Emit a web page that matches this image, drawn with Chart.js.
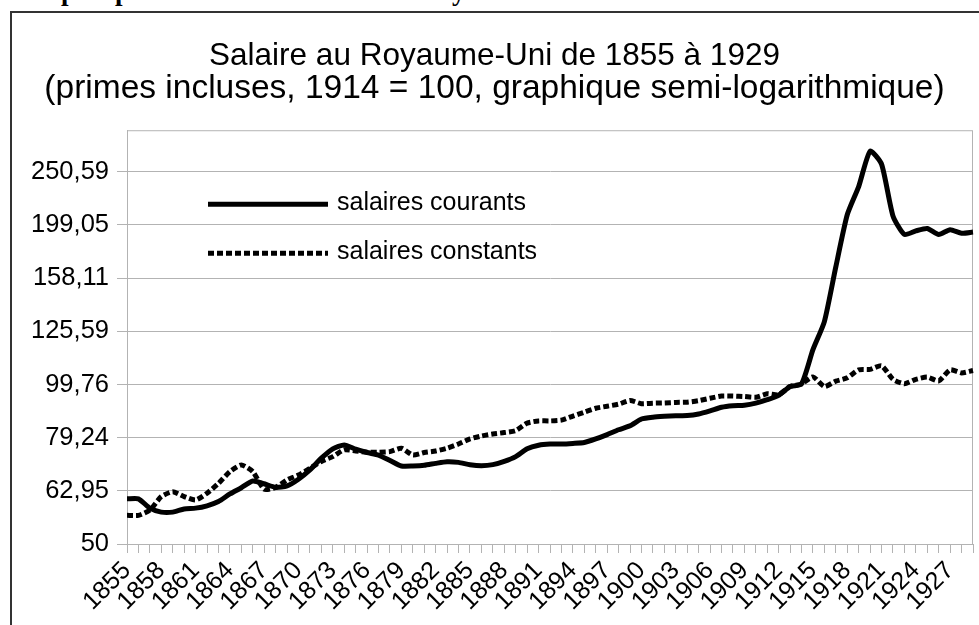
<!DOCTYPE html>
<html lang="fr">
<head>
<meta charset="utf-8">
<title>Salaire au Royaume-Uni de 1855 à 1929</title>
<script src="https://cdn.jsdelivr.net/npm/chart.js@4.4.1/dist/chart.umd.min.js"></script>
<style>
  html, body { margin: 0; padding: 0; background: #fff; overflow: hidden; }
  body { width: 979px; height: 625px; position: relative; }
  #cadre { position: absolute; left: 10px; top: 11px; width: 1000px; height: 700px; border: 2px solid #333; box-sizing: border-box; }
  canvas { position: absolute; left: 0; top: 0; }
  .bout { position: absolute; top: -22px; font: bold 27px "Liberation Serif"; line-height: 27px; color: #000; }
</style>
</head>
<body>
<!-- restes de la ligne de texte coupée au-dessus du graphique -->
<span class="bout" style="left:61px">p</span>
<span class="bout" style="left:115px">p</span>
<span class="bout" style="left:452px">y</span>
<div id="cadre"></div>
<canvas id="graphique" width="979" height="625"></canvas>
<script>
// Données (indice 1914 = 100, primes incluses)
const annees = [
  '1855','1856','1857','1858','1859','1860','1861','1862','1863','1864',
  '1865','1866','1867','1868','1869','1870','1871','1872','1873','1874',
  '1875','1876','1877','1878','1879','1880','1881','1882','1883','1884',
  '1885','1886','1887','1888','1889','1890','1891','1892','1893','1894',
  '1895','1896','1897','1898','1899','1900','1901','1902','1903','1904',
  '1905','1906','1907','1908','1909','1910','1911','1912','1913','1914',
  '1915','1916','1917','1918','1919','1920','1921','1922','1923','1924',
  '1925','1926','1927','1928','1929'
];

const salairesCourants = [
  60.8, 60.8, 58.4, 57.4, 57.4, 58.2, 58.4, 59.0, 60.1, 62.1,
  63.8, 65.7, 64.9, 63.9, 64.3, 66.2, 68.9, 72.5, 75.5, 76.8,
  75.4, 74.3, 73.5, 71.8, 70.1, 70.1, 70.3, 70.9, 71.4, 71.2,
  70.5, 70.2, 70.5, 71.5, 73.0, 75.5, 76.7, 77.1, 77.1, 77.3,
  77.6, 78.8, 80.3, 82.0, 83.4, 85.9, 86.6, 86.9, 87.1, 87.2,
  87.8, 89.0, 90.4, 91.0, 91.2, 92.0, 93.4, 95.2, 98.9, 100,
  116, 131, 166, 208, 235, 274, 259, 207, 191, 194,
  196, 191, 195, 192, 193
];

const salairesConstants = [
  56.6, 56.6, 57.9, 61.4, 62.7, 61.4, 60.5, 62.3, 65.0, 68.4,
  70.4, 68.4, 63.4, 63.9, 66.0, 67.4, 69.4, 71.5, 73.0, 75.2,
  74.8, 74.4, 74.4, 74.6, 75.7, 73.5, 74.3, 74.8, 75.7, 77.1,
  78.8, 79.8, 80.5, 81.0, 81.7, 84.4, 85.2, 85.2, 85.5, 87.0,
  88.5, 90.0, 90.8, 91.6, 93.1, 91.8, 92.0, 92.1, 92.3, 92.4,
  93.0, 94.0, 94.9, 94.9, 94.7, 94.4, 95.8, 95.4, 98.9, 100,
  103.1, 98.9, 101.2, 102.7, 106.3, 106.5, 108.2, 102.0, 100.1, 102.0,
  103.0, 101.3, 106.3, 104.9, 106.0
];

// graduations de l'axe semi-logarithmique (pas de 10^0,1)
const valeursGraduation = [50, 62.95, 79.24, 99.76, 125.59, 158.11, 199.05, 250.59];
const etiquettesGraduation = ['50', '62,95', '79,24', '99,76', '125,59', '158,11', '199,05', '250,59'];

const titre = 'Salaire au Royaume-Uni de 1855 à 1929';
const sousTitre = '(primes incluses, 1914 = 100, graphique semi-logarithmique)';

const POLICE = '"Liberation Sans", Arial, sans-serif';
const GRIS = '#b3b3b3';

// cadre gris autour de la zone de tracé
const cadreZone = {
  id: 'cadreZone',
  beforeDatasetsDraw(chart) {
    const { ctx, chartArea: a } = chart;
    ctx.save();
    ctx.strokeStyle = GRIS;
    ctx.lineWidth = 1;
    ctx.strokeRect(a.left + 0.5, a.top + 0.5, a.width - 1, a.height);
    ctx.restore();
  }
};

// légende placée dans la zone de tracé, comme l'original
const legendeInterne = {
  id: 'legendeInterne',
  afterDatasetsDraw(chart) {
    const { ctx, chartArea: a } = chart;
    ctx.save();
    chart.data.datasets.forEach((ds, i) => {
      const y = a.top + 74 + i * 49;
      const x = a.left + 81;
      ctx.strokeStyle = ds.borderColor;
      ctx.lineWidth = ds.borderWidth;
      ctx.lineCap = 'butt';
      ctx.setLineDash(ds.borderDash || []);
      ctx.beginPath();
      ctx.moveTo(x, y);
      ctx.lineTo(x + 120, y);
      ctx.stroke();
      ctx.setLineDash([]);
      ctx.fillStyle = '#000';
      ctx.font = '25px ' + POLICE;
      ctx.textBaseline = 'middle';
      ctx.fillText(ds.label, x + 129, y - 1);
    });
    ctx.restore();
  }
};

const ctx = document.getElementById('graphique').getContext('2d');
new Chart(ctx, {
  type: 'line',
  data: {
    labels: annees,
    datasets: [{
      label: 'salaires courants',
      data: salairesCourants,
      borderColor: '#000',
      borderWidth: 5,
      borderJoinStyle: 'round',
      pointRadius: 0,
      tension: 0.2,
      fill: false
    }, {
      label: 'salaires constants',
      data: salairesConstants,
      borderColor: '#000',
      borderWidth: 5,
      borderDash: [6, 3],
      borderJoinStyle: 'round',
      pointRadius: 0,
      tension: 0.2,
      fill: false
    }]
  },
  options: {
    responsive: false,
    animation: false,
    devicePixelRatio: 1,
    layout: { padding: { left: 10, right: 0, top: 0, bottom: 0 } },
    plugins: {
      legend: { display: false },
      tooltip: { enabled: false },
      title: {
        display: true,
        text: titre,
        color: '#000',
        font: { family: POLICE, size: 31.5, weight: 'normal', lineHeight: 1.05 },
        padding: { top: 40, bottom: 0 }
      },
      subtitle: {
        display: true,
        text: sousTitre,
        color: '#000',
        font: { family: POLICE, size: 33.5, weight: 'normal', lineHeight: 0.93 },
        padding: { top: 0, bottom: 26 }
      }
    },
    scales: {
      x: {
        type: 'category',
        offset: false,
        grid: { display: true, drawOnChartArea: false, drawTicks: true, tickLength: 9, color: GRIS },
        border: { display: true, color: GRIS },
        ticks: {
          autoSkip: false,
          minRotation: 45,
          maxRotation: 45,
          padding: 3,
          color: '#000',
          font: { family: POLICE, size: 25 },
          callback: (v, i) => (i % 3 === 0 ? annees[i] : '')
        },
        afterFit: s => { s.height = 81; s.paddingLeft = 0; s.paddingRight = 6; }
      },
      y: {
        type: 'logarithmic',
        min: 50,
        max: 300,
        afterBuildTicks: s => { s.ticks = valeursGraduation.map(v => ({ value: v })); },
        grid: { color: GRIS, tickLength: 10 },
        border: { display: true, color: GRIS },
        ticks: {
          padding: 8,
          color: '#000',
          font: { family: POLICE, size: 25.5 },
          callback: (v, i) => etiquettesGraduation[i]
        },
        afterFit: s => { s.width = 117; s.paddingTop = 0; s.paddingBottom = 0; }
      }
    }
  },
  plugins: [cadreZone, legendeInterne]
});
</script>
</body>
</html>
